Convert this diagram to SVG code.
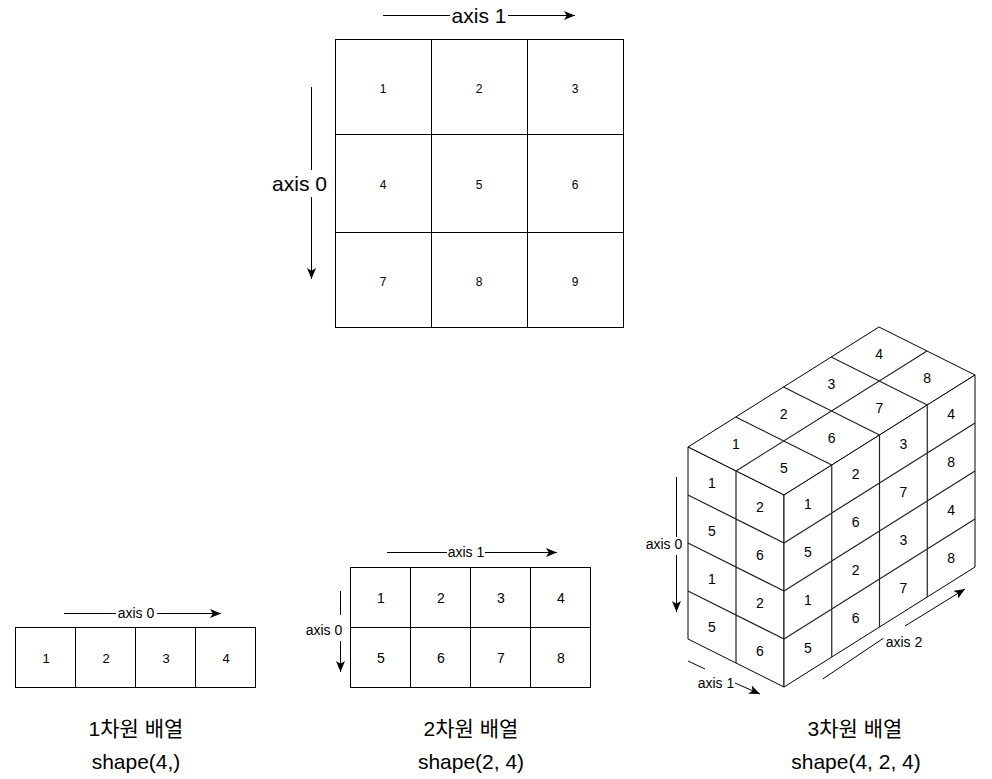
<svg xmlns="http://www.w3.org/2000/svg" width="992" height="779" viewBox="0 0 992 779">
<style>
.c{fill:#fff;stroke:#000;stroke-width:1}
.l{fill:none;stroke:#000;stroke-width:1}
.cl{fill:none;stroke:#222;stroke-width:1.2}
.n{font-family:"Liberation Sans",Arial,sans-serif;fill:#000;text-anchor:middle}
.n12{font-size:12px}.n13{font-size:13px}.n14{font-size:14px}
.t21{font-family:"Liberation Sans",Arial,sans-serif;font-size:21px;fill:#000;text-anchor:middle}
.k{font-family:"Liberation Sans","Noto Sans CJK KR",sans-serif;font-size:21px;fill:#000;text-anchor:middle}
.a{fill:none;stroke:#000;stroke-width:1}
</style>
<defs>
<marker id="ar" markerWidth="11" markerHeight="9" refX="11" refY="4.5" orient="auto" markerUnits="userSpaceOnUse">
<path d="M0,0 L11,4.5 L0,9 L2.8,4.5 z" fill="#000"/>
</marker>
</defs>
<rect width="992" height="779" fill="#fff"/>

<g id="grid3x3">
<rect class="c" x="335.5" y="39.5" width="288" height="288"/>
<path class="l" d="M431.5,39.5V327.5M527.5,39.5V327.5M335.5,134.5H623.5M335.5,232.5H623.5"/>
<g class="n n12">
<text x="383" y="92.5">1</text><text x="479" y="92.5">2</text><text x="575" y="92.5">3</text>
<text x="383" y="188.5">4</text><text x="479" y="188.5">5</text><text x="575" y="188.5">6</text>
<text x="383" y="286">7</text><text x="479" y="286">8</text><text x="575" y="286">9</text>
</g>
</g>

<g id="array1d">
<rect class="c" x="15.5" y="627.5" width="240" height="60"/>
<path class="l" d="M75.5,627.5V687.5M135.5,627.5V687.5M195.5,627.5V687.5"/>
<g class="n n13">
<text x="46" y="662.5">1</text><text x="106" y="662.5">2</text><text x="166" y="662.5">3</text><text x="226" y="662.5">4</text>
</g>
<text class="k" x="136" y="735.5">1차원 배열</text>
<text class="t21" x="136" y="769">shape(4,)</text>
</g>

<g id="array2d">
<rect class="c" x="350.5" y="567.5" width="240" height="120"/>
<path class="l" d="M410.5,567.5V687.5M470.5,567.5V687.5M530.5,567.5V687.5M350.5,627.5H590.5"/>
<g class="n n14">
<text x="381" y="603">1</text><text x="441" y="603">2</text><text x="501" y="603">3</text><text x="561" y="603">4</text>
<text x="381" y="663">5</text><text x="441" y="663">6</text><text x="501" y="663">7</text><text x="561" y="663">8</text>
</g>
<text class="k" x="471" y="735.5">2차원 배열</text>
<text class="t21" x="471" y="769">shape(2, 4)</text>
</g>

<g id="array3d">
<polygon class="c" points="688,447 784,495 975,375 879,327"/>
<polygon class="c" points="688,447 784,495 784,687 688,639"/>
<polygon class="c" points="784,495 975,375 975,567 784,687"/>
<path class="cl" d="M736,471L927,351M735.75,417L831.75,465M783.5,387L879.5,435M831.25,357L927.25,405
M736,471V663M688,495L784,543M688,543L784,591M688,591L784,639
M831.75,465V657M879.5,435V627M927.25,405V597
M784,543L975,423M784,591L975,471M784,639L975,519"/>
<g class="n n14">
<text x="735.9" y="449">1</text><text x="783.6" y="419">2</text><text x="831.4" y="389">3</text><text x="879.1" y="359">4</text>
<text x="783.9" y="473">5</text><text x="831.6" y="443">6</text><text x="879.4" y="413">7</text><text x="927.1" y="383">8</text>
<text x="712" y="488">1</text><text x="712" y="536">5</text><text x="712" y="584">1</text><text x="712" y="632">5</text>
<text x="760" y="512">2</text><text x="760" y="560">6</text><text x="760" y="608">2</text><text x="760" y="656">6</text>
<text x="807.9" y="509">1</text><text x="807.9" y="557">5</text><text x="807.9" y="605">1</text><text x="807.9" y="653">5</text>
<text x="855.6" y="479">2</text><text x="855.6" y="527">6</text><text x="855.6" y="575">2</text><text x="855.6" y="623">6</text>
<text x="903.4" y="449">3</text><text x="903.4" y="497">7</text><text x="903.4" y="545">3</text><text x="903.4" y="593">7</text>
<text x="951.1" y="419">4</text><text x="951.1" y="467">8</text><text x="951.1" y="515">4</text><text x="951.1" y="563">8</text>
</g>
<text class="k" x="855" y="735.5">3차원 배열</text>
<text class="t21" x="856" y="769">shape(4, 2, 4)</text>
</g>

<g id="connectors">
<path class="a" d="M383,15.5H450"/>
<path class="a" d="M508,15.5H575" marker-end="url(#ar)"/>
<text class="t21" x="479" y="22.5">axis 1</text>
<path class="a" d="M311.5,87V170"/>
<path class="a" d="M311.5,197V279" marker-end="url(#ar)"/>
<text class="t21" x="299.5" y="190.5">axis 0</text>

<path class="a" d="M64,613.5H116"/>
<path class="a" d="M157,613.5H221" marker-end="url(#ar)"/>
<text class="n n14" x="136" y="618">axis 0</text>

<path class="a" d="M387,552.5H447"/>
<path class="a" d="M485,552.5H557" marker-end="url(#ar)"/>
<text class="n n14" x="466" y="557">axis 1</text>
<path class="a" d="M340.5,591V615"/>
<path class="a" d="M340.5,641V672" marker-end="url(#ar)"/>
<text class="n n14" x="324" y="634.5">axis 0</text>

<path class="a" d="M676.5,477V537"/>
<path class="a" d="M676.5,555V612" marker-end="url(#ar)"/>
<text class="n n14" x="664" y="549">axis 0</text>

<path class="a" d="M688,661L705,669"/>
<path class="a" d="M735,683L760,694" marker-end="url(#ar)"/>
<text class="n n14" x="716" y="688">axis 1</text>

<path class="a" d="M822.7,679L883.3,638.3"/>
<path class="a" d="M905,626L965,589" marker-end="url(#ar)"/>
<text class="n n14" x="904" y="646.5">axis 2</text>
</g>
</svg>
